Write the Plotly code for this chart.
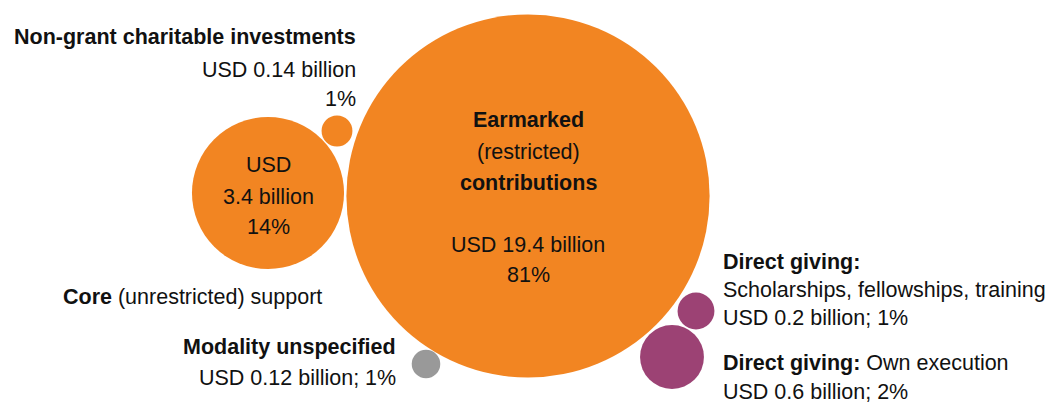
import math
import plotly.graph_objects as go

# ---- data ----
categories = [
    "Earmarked (restricted) contributions",
    "Core (unrestricted) support",
    "Non-grant charitable investments",
    "Modality unspecified",
    "Direct giving: Scholarships, fellowships, training",
    "Direct giving: Own execution",
]
values_bn = [19.4, 3.4, 0.14, 0.12, 0.2, 0.6]
shares_pct = [81, 14, 1, 1, 1, 2]

# ---- layout (pixel coordinates of bubble centres) ----
center_x = [528, 268, 337, 426, 696, 672]
center_y = [196, 193, 131, 364, 311, 357]
colors = ["#F28522", "#F28522", "#F28522", "#999999", "#9C4274", "#9C4274"]
AREA_K = 1700  # px^2 per billion USD

W, H = 1050, 403
FONT = "Liberation Sans, Arial, sans-serif"
FS = 21.5

sizes = [2 * math.sqrt(AREA_K * v) for v in values_bn]

fig = go.Figure()
fig.add_trace(go.Scatter(
    x=center_x, y=center_y, mode="markers",
    marker=dict(size=sizes, sizemode="diameter", color=colors, opacity=1,
                line=dict(width=0)),
    hoverinfo="text", text=categories, showlegend=False,
))

def usd(i):
    return f"USD {values_bn[i]:g} billion"

def pct(i):
    return f"{shares_pct[i]}%"

lines = [
    # Earmarked
    (528, 120, "<b>Earmarked</b>", "center"),
    (528, 152, "(restricted)", "center"),
    (528, 183, "<b>contributions</b>", "center"),
    (528, 245, usd(0), "center"),
    (528, 275, pct(0), "center"),
    # Core
    (268, 165, "USD", "center"),
    (268, 197, f"{values_bn[1]:g} billion", "center"),
    (268, 227, pct(1), "center"),
    (62, 297, "<b>Core</b> (unrestricted) support", "left"),
    # Non-grant
    (357, 37, "<b>" + categories[2] + "</b>", "right"),
    (357, 70, usd(2), "right"),
    (357, 99, pct(2), "right"),
    # Modality
    (397, 347, "<b>" + categories[3] + "</b>", "right"),
    (397, 378, f"{usd(3)}; {pct(3)}", "right"),
    # Direct giving 1
    (722, 262, "<b>Direct giving:</b>", "left"),
    (722, 290, "Scholarships, fellowships, training", "left"),
    (722, 318, f"{usd(4)}; {pct(4)}", "left"),
    # Direct giving 2
    (722, 363, "<b>Direct giving:</b> Own execution", "left"),
    (722, 392, f"{usd(5)}; {pct(5)}", "left"),
]

for x, y, t, anc in lines:
    fig.add_annotation(x=x, y=y, text=t, showarrow=False, xanchor=anc,
                       yanchor="middle", borderpad=0,
                       font=dict(family=FONT, size=FS, color="#111111"))

fig.update_layout(
    width=W, height=H, margin=dict(l=0, r=0, t=0, b=0),
    paper_bgcolor="white", plot_bgcolor="white",
    xaxis=dict(range=[0, W], visible=False, fixedrange=True),
    yaxis=dict(range=[H, 0], visible=False, fixedrange=True),
)
fig.write_html(
    "out.html",
    config={"displayModeBar": False},
    post_script="document.body.style.margin='0';document.body.style.overflow='hidden';",
)
